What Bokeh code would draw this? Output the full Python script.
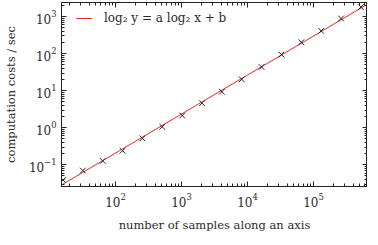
import numpy as np
from bokeh.plotting import figure
from bokeh.models import LogAxis, Legend, LegendItem, LogTicker, Range1d
from bokeh.embed import file_html
from bokeh.resources import INLINE

# data
samples = [16, 32, 64, 128, 256, 512, 1024, 2048, 4096, 8192, 16384,
           32768, 65536, 131072, 262144, 524288]
costs = [0.039, 0.070, 0.127, 0.24, 0.52, 1.06, 2.15, 4.6, 9.4, 20.3,
         43.7, 94, 203, 412, 890, 1800]
x_limits = [15.2, 6.6e5]
y_limits = [0.026, 2400]
x_title = "number of samples along an axis"
y_title = "computation costs / sec"
legend_label = "log\u2082 y = a log\u2082 x + b"

FONT = "DejaVu Serif"
TEXT = "#2a2a2a"
FRAME_H = 184

p = figure(frame_width=306, frame_height=FRAME_H, x_axis_type="log", y_axis_type="log",
           x_range=Range1d(*x_limits), y_range=Range1d(*y_limits),
           output_backend="svg", toolbar_location=None,
           min_border_left=54, min_border_right=0, min_border_top=2,
           min_border_bottom=0)
p.xgrid.visible = False
p.ygrid.visible = False
p.outline_line_color = "#222222"
p.outline_line_width = 1
p.background_fill_color = "white"
p.border_fill_color = "white"

# fit line through data
a, b = np.polyfit(np.log2(samples), np.log2(costs), 1)
fx = np.array(x_limits)
fy = 2 ** (a * np.log2(fx) + b)
line = p.line(fx, fy, line_color="#ee2626", line_width=1)
p.scatter(samples, costs, marker="x", size=8, line_color="#222222", line_width=1)

def style(ax, labels=True):
    ax.ticker = LogTicker(num_minor_ticks=10)
    ax.major_tick_in = 5
    ax.major_tick_out = 0
    ax.minor_tick_in = 3
    ax.minor_tick_out = 0
    ax.axis_line_color = "#222222"
    ax.major_tick_line_color = "#222222"
    ax.minor_tick_line_color = "#222222"
    if labels:
        ax.major_label_text_font = FONT
        ax.major_label_text_font_size = "12px"
        ax.major_label_text_color = TEXT
        ax.axis_label_text_font = FONT
        ax.axis_label_text_font_size = "11.5px"
        ax.axis_label_text_font_style = "normal"
        ax.axis_label_text_color = TEXT
    else:
        ax.major_label_text_font_size = "1px"
        ax.major_label_text_alpha = 0
        ax.major_label_standoff = 0

style(p.xaxis[0])
style(p.yaxis[0])
p.xaxis[0].axis_label = x_title
p.yaxis[0].axis_label = y_title
p.xaxis[0].major_label_standoff = 6
p.xaxis[0].axis_label_standoff = 8
p.yaxis[0].major_label_standoff = 5
p.yaxis[0].axis_label_standoff = 8

top = LogAxis()
right = LogAxis()
style(top, labels=False)
style(right, labels=False)
p.add_layout(top, "above")
p.add_layout(right, "right")

legend = Legend(items=[LegendItem(label=legend_label, renderers=[line])],
                location=(15, FRAME_H - 26), border_line_color=None,
                background_fill_alpha=0, label_text_font=FONT,
                label_text_color=TEXT,
                label_text_font_size="12px", glyph_width=16,
                label_standoff=12, margin=0, padding=0, spacing=0)
p.add_layout(legend)

open("out.html", "w").write(file_html(p, INLINE))
